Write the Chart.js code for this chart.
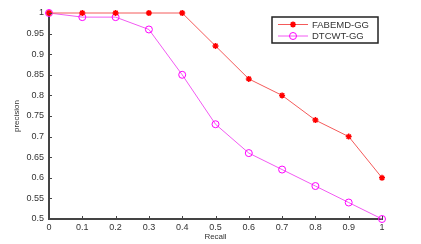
<!DOCTYPE html>
<html>
<head>
<meta charset="utf-8">
<script src="https://cdn.jsdelivr.net/npm/chart.js@4/dist/chart.umd.min.js"></script>
<style>
  html, body { margin: 0; padding: 0; background: #fff; }
  #wrap { width: 421px; height: 244px; position: relative; }
</style>
</head>
<body>
<div id="wrap"><canvas id="prChart" width="421" height="244"></canvas></div>
<script>
// data
const recall = [0, 0.1, 0.2, 0.3, 0.4, 0.5, 0.6, 0.7, 0.8, 0.9, 1];
const fabemdPrecision = [1, 1, 1, 1, 1, 0.92, 0.84, 0.8, 0.74, 0.7, 0.6];
const dtcwtPrecision = [1, 0.99, 0.99, 0.96, 0.85, 0.73, 0.66, 0.62, 0.58, 0.54, 0.5];
const seriesNames = ['FABEMD-GG', 'DTCWT-GG'];
const xTickLabels = ['0', '0.1', '0.2', '0.3', '0.4', '0.5', '0.6', '0.7', '0.8', '0.9', '1'];
const yTickLabels = ['0.5', '0.55', '0.6', '0.65', '0.7', '0.75', '0.8', '0.85', '0.9', '0.95', '1'];

const FONT = 'Liberation Sans, Arial, sans-serif';
const AXIS = '#444';

// matlab style: short ticks pointing into the plot
const innerTicks = {
  id: 'innerTicks',
  afterDraw(chart) {
    const { ctx, scales: { x, y } } = chart;
    ctx.save();
    ctx.strokeStyle = AXIS;
    ctx.lineWidth = 1;
    ctx.beginPath();
    x.ticks.forEach(t => {
      const px = Math.round(x.getPixelForValue(t.value)) + 0.5;
      ctx.moveTo(px, y.bottom);
      ctx.lineTo(px, y.bottom - 3);
    });
    y.ticks.forEach(t => {
      const py = Math.round(y.getPixelForValue(t.value)) + 0.5;
      ctx.moveTo(x.left, py);
      ctx.lineTo(x.left + 3, py);
    });
    ctx.stroke();
    ctx.restore();
  }
};

// boxed legend, top right
const boxLegend = {
  id: 'boxLegend',
  afterDraw(chart) {
    const { ctx } = chart;
    const bx = 272, by = 17, bw = 106, bh = 26;
    ctx.save();
    ctx.fillStyle = '#fff';
    ctx.fillRect(bx, by, bw, bh);
    ctx.strokeStyle = '#222';
    ctx.lineWidth = 1.5;
    ctx.strokeRect(bx, by, bw, bh);
    chart.data.datasets.forEach((ds, i) => {
      const cy = by + 7.5 + i * 11.5;
      ctx.strokeStyle = ds.borderColor;
      ctx.lineWidth = 1;
      ctx.beginPath();
      ctx.moveTo(bx + 6, cy);
      ctx.lineTo(bx + 36, cy);
      ctx.stroke();
      ctx.strokeStyle = ds.pointBorderColor;
      ctx.fillStyle = ds.pointBackgroundColor;
      ctx.lineWidth = ds.pointBorderWidth;
      Chart.helpers.drawPoint(ctx, {
        pointStyle: ds.pointStyle,
        radius: ds.pointRadius,
        borderWidth: ds.pointBorderWidth
      }, bx + 21, cy);
      ctx.fillStyle = '#333';
      ctx.font = '9.5px ' + FONT;
      ctx.textBaseline = 'middle';
      ctx.fillText(ds.label, bx + 40, cy + 0.5);
    });
    ctx.restore();
  }
};

Chart.defaults.font.family = FONT;
Chart.defaults.color = '#333';

new Chart(document.getElementById('prChart'), {
  type: 'line',
  data: {
    datasets: [
      {
        label: seriesNames[0],
        data: recall.map((r, i) => ({ x: r, y: fabemdPrecision[i] })),
        borderColor: '#f45a5a',
        borderWidth: 1,
        pointStyle: 'star',
        pointRadius: 3,
        pointBorderWidth: 1.5,
        pointBorderColor: '#ff0000',
        pointBackgroundColor: '#ff0000',
        tension: 0,
        clip: false
      },
      {
        label: seriesNames[1],
        data: recall.map((r, i) => ({ x: r, y: dtcwtPrecision[i] })),
        borderColor: '#f25af2',
        borderWidth: 1,
        pointStyle: 'circle',
        pointRadius: 3.5,
        pointBorderWidth: 1,
        pointBorderColor: '#ff00ff',
        pointBackgroundColor: 'rgba(0,0,0,0)',
        tension: 0,
        clip: false
      }
    ]
  },
  options: {
    responsive: false,
    animation: false,
    layout: { padding: { top: 13, right: 39, left: 0, bottom: 0 } },
    plugins: { legend: { display: false }, tooltip: { enabled: false } },
    scales: {
      x: {
        type: 'linear',
        min: 0, max: 1,
        afterFit(s) { s.height = 25; },
        afterBuildTicks(s) { s.ticks = recall.map(v => ({ value: v })); },
        grid: { drawOnChartArea: false, drawTicks: false },
        border: { color: AXIS, width: 2 },
        ticks: {
          padding: 3,
          font: { size: 9 },
          maxRotation: 0,
          autoSkip: false,
          callback: (v, i) => xTickLabels[i]
        },
        title: { display: true, text: 'Recall', font: { size: 8 }, padding: { top: 0, bottom: 2 } }
      },
      y: {
        type: 'linear',
        min: 0.5, max: 1,
        afterFit(s) { s.width = 49; },
        afterBuildTicks(s) { s.ticks = yTickLabels.map(l => ({ value: parseFloat(l) })); },
        grid: { drawOnChartArea: false, drawTicks: false },
        border: { color: AXIS, width: 2 },
        ticks: {
          padding: 5,
          font: { size: 9 },
          autoSkip: false,
          callback: (v, i) => yTickLabels[i]
        },
        title: { display: true, text: 'precision', font: { size: 8 }, padding: { top: 12, bottom: 0 } }
      }
    }
  },
  plugins: [innerTicks, boxLegend]
});
</script>
</body>
</html>
